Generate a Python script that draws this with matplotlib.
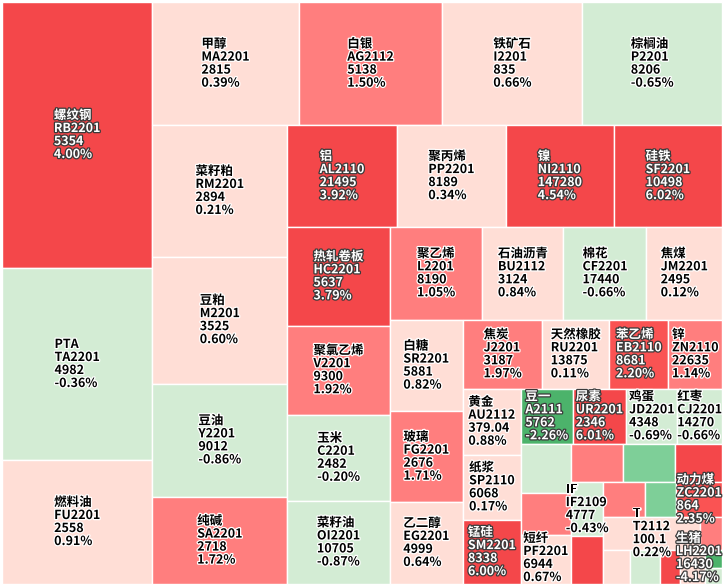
import matplotlib
matplotlib.use("Agg")
import matplotlib.pyplot as plt
import matplotlib.patheffects as pe
from matplotlib.patches import Rectangle

plt.rcParams['font.family'] = ['Noto Sans CJK SC', 'DejaVu Sans']

# ---- data (cells listed in layout order, unnamed = small contracts without label) ----
names = ['螺纹钢', 'PTA', '燃料油', '甲醇', '白银', '铁矿石', '棕榈油',
         '菜籽粕', '豆粕', '豆油', '纯碱', '铝', '聚丙烯', '镍', '硅铁',
         '热轧卷板', '聚氯乙烯', '玉米', '菜籽油', '聚乙烯', '石油沥青', '棉花', '焦煤',
         '白糖', '玻璃', '乙二醇', '焦炭', '天然橡胶', '苯乙烯', '锌',
         '黄金', '纸浆', '锰硅', '豆一', '尿素', '鸡蛋', '红枣',
         '', '', '短纤', '', '', '', 'IF', '', '', '', '动力煤',
         'T', '', '', '', '', '', '生猪', '']
codes = ['RB2201', 'TA2201', 'FU2201', 'MA2201', 'AG2112', 'I2201', 'P2201',
         'RM2201', 'M2201', 'Y2201', 'SA2201', 'AL2110', 'PP2201', 'NI2110', 'SF2201',
         'HC2201', 'V2201', 'C2201', 'OI2201', 'L2201', 'BU2112', 'CF2201', 'JM2201',
         'SR2201', 'FG2201', 'EG2201', 'J2201', 'RU2201', 'EB2110', 'ZN2110',
         'AU2112', 'SP2110', 'SM2201', 'A2111', 'UR2201', 'JD2201', 'CJ2201',
         '', '', 'PF2201', '', '', '', 'IF2109', '', '', '', 'ZC2201',
         'T2112', '', '', '', '', '', 'LH2201', '']
prices = ['5354', '4982', '2558', '2815', '5138', '835', '8206',
          '2894', '3525', '9012', '2718', '21495', '8189', '147280', '10498',
          '5637', '9300', '2482', '10705', '8190', '3124', '17440', '2495',
          '5881', '2676', '4999', '3187', '13875', '8681', '22635',
          '379.04', '6068', '8338', '5762', '2346', '4348', '14270',
          '', '', '6944', '', '', '', '4777', '', '', '', '864',
          '100.1', '', '', '', '', '', '16430', '']
pcts = [4.00, -0.36, 0.91, 0.39, 1.50, 0.66, -0.65,
        0.21, 0.60, -0.86, 1.72, 3.92, 0.34, 4.54, 6.02,
        3.79, 1.92, -0.20, -0.87, 1.05, 0.84, -0.66, 0.12,
        0.82, 1.71, 0.64, 1.97, 0.11, 2.20, 1.14,
        0.88, 0.17, 6.00, -2.26, 6.01, -0.69, -0.66,
        -0.50, 1.50, 0.67, 1.50, -1.50, 3.00, -0.43, 3.00, 1.50, -1.50, 2.35,
        0.22, 1.50, 0.50, -0.50, 3.00, 0.50, -4.17, -0.50]
# relative size of each contract (cell area weight)
sizes = [399, 288, 186, 180, 177, 172, 172,
         177, 171, 153, 117, 111, 111, 109, 110,
         101, 91, 88, 85, 86, 75, 77, 70,
         67, 66, 60, 55, 46, 41, 37,
         38, 38, 37, 28.3, 29.4, 27.8, 24.5,
         24.3, 21.0, 24.5, 20.4, 20.0, 18.1, 17.5, 15.8, 14.3, 10.5, 15.6,
         32.0, 7.3, 9.2, 10.2, 6.8, 8.5, 3.1, 2.7]

# strips: (number of cells, 'col' = vertical strip at left, 'row' = horizontal strip at top)
strips = [(3, 'col'), (4, 'row'), (4, 'col'), (4, 'row'), (4, 'col'), (4, 'row'),
          (3, 'col'), (4, 'row'), (3, 'col'), (4, 'row'), (3, 'col'), (3, 'row'),
          (2, 'col'), (3, 'row'), (2, 'row'), (1, 'col'), (1, 'col'), (1, 'col'),
          (1, 'col'), (2, 'col')]

X0, Y0, W, H = 2, 2, 720, 582


def strip_layout(vals, strips, x, y, w, h):
    total = sum(vals)
    areas = [v * w * h / total for v in vals]
    rects = []
    i = 0
    for n, orient in strips:
        group = areas[i:i + n]
        s = sum(group)
        if orient == 'col':
            t = s / h
            yy = y
            for a in group:
                rects.append((x, yy, t, a / t))
                yy += a / t
            x += t
            w -= t
        else:
            t = s / w
            xx = x
            for a in group:
                rects.append((xx, y, a / t, t))
                xx += a / t
            y += t
            h -= t
        i += n
    return rects


def cell_color(p):
    if p >= 3:
        return '#F4474A'
    if p >= 2:
        return '#FA5353'
    if p >= 1:
        return '#FF7E7E'
    if p >= 0:
        return '#FFDED6'
    if p > -1:
        return '#D3ECD4'
    if p > -2:
        return '#7ECF98'
    return '#4CB36B'


fig = plt.figure(figsize=(7.24, 5.86), dpi=100)
ax = fig.add_axes([0, 0, 1, 1])
ax.set_xlim(0, 724)
ax.set_ylim(586, 0)
ax.axis('off')

rects = strip_layout(sizes, strips, X0, Y0, W, H)

for (x, y, w, h), p in zip(rects, pcts):
    ax.add_patch(Rectangle((x, y), w, h, facecolor=cell_color(p),
                           edgecolor='white', linewidth=1.0))

texts = []
for (x, y, w, h), n, c, v, p in zip(rects, names, codes, prices, pcts):
    if not n:
        continue
    strong = abs(p) >= 2
    t = ax.text(x + w / 2, y + h / 2, f"{n}\n{c}\n{v}\n{p:.2f}%",
                ha='center', va='center', multialignment='left',
                fontsize=9, linespacing=1.0, fontweight='bold',
                color='white' if strong else 'black',
                path_effects=[pe.withStroke(linewidth=1.8,
                                            foreground='#3a3a3a' if strong else 'white')])
    texts.append(t)

# keep overflowing labels inside the chart area
fig.canvas.draw()
rend = fig.canvas.get_renderer()
inv = ax.transData.inverted()
for t in texts:
    bb = t.get_window_extent(rend).transformed(inv)
    dx = dy = 0
    if bb.xmax > X0 + W:
        dx = X0 + W - bb.xmax
    if bb.ymax > Y0 + H:
        dy = Y0 + H - bb.ymax
    if dx or dy:
        px, py = t.get_position()
        t.set_position((px + dx, py + dy))

fig.savefig('out.png', dpi=100)
